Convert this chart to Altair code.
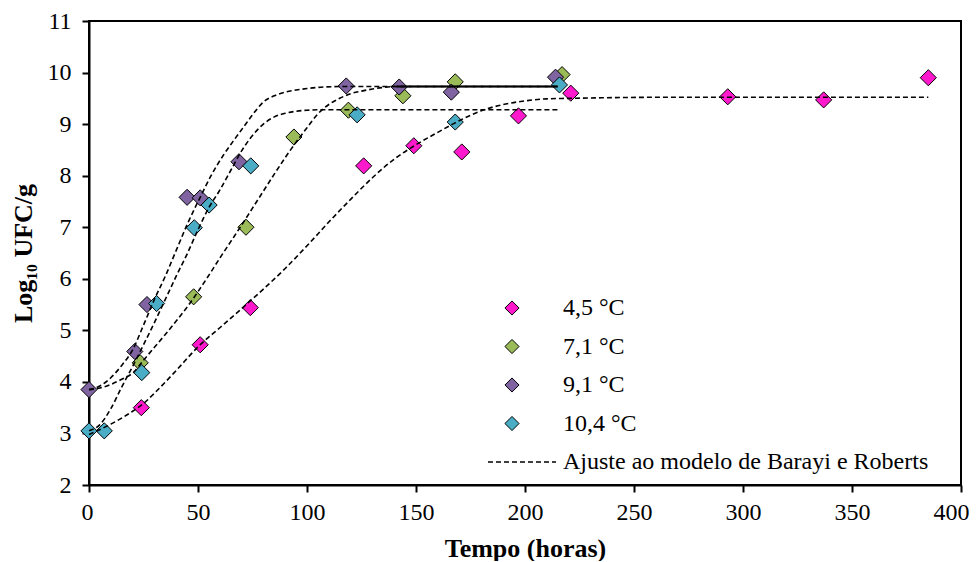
import altair as alt
import pandas as pd

# ---- categories / styling lists ----
series = ["4,5 °C", "7,1 °C", "9,1 °C", "10,4 °C"]
colors = ["#FF19CC", "#9BBB59", "#8064A2", "#4BACC6"]
fit_label = "Ajuste ao modelo de Barayi e Roberts"
x_ticks = [0, 50, 100, 150, 200, 250, 300, 350, 400]
y_ticks = [2, 3, 4, 5, 6, 7, 8, 9, 10, 11]

# ---- observed points (time h, log10 UFC/g) ----
t_45 = [24, 51, 74, 126, 149, 171, 197, 221, 293, 337, 385]
y_45 = [3.5, 4.72, 5.44, 8.19, 8.58, 8.46, 9.16, 9.6, 9.53, 9.47, 9.9]
t_71 = [23.5, 48, 72, 94, 119, 144, 168, 217]
y_71 = [4.37, 5.65, 7.0, 8.75, 9.27, 9.55, 9.82, 9.96]
t_91 = [0, 21, 26.6, 45, 51, 68.8, 118, 142.3, 166.2, 214]
y_91 = [3.85, 4.59, 5.5, 7.58, 7.57, 8.27, 9.74, 9.72, 9.62, 9.91]
t_104 = [0, 7, 24.2, 31, 48.3, 55.1, 74.2, 123, 168, 215.8]
y_104 = [3.05, 3.05, 4.18, 5.52, 6.99, 7.43, 8.19, 9.18, 9.04, 9.76]

# ---- fitted curves ----
ct_45 = [0, 10, 20, 25, 30, 40, 50, 60, 70, 80, 90, 100, 110, 120, 130, 140, 150,
         160, 170, 180, 190, 200, 210, 220, 235, 260, 385]
cy_45 = [2.98, 3.18, 3.43, 3.58, 3.78, 4.22, 4.68, 5.05, 5.42, 5.8, 6.2, 6.64, 7.1,
         7.54, 7.96, 8.32, 8.6, 8.84, 9.07, 9.26, 9.38, 9.45, 9.49, 9.5, 9.51, 9.52, 9.52]
ct_71 = [0, 5, 10, 15, 20, 25, 30, 35, 40, 45, 50, 55, 60, 65, 70, 75, 80, 85, 90,
         95, 100, 105, 110, 115, 120, 125, 130, 135, 141, 150, 215]
cy_71 = [3.85, 3.88, 3.95, 4.05, 4.17, 4.42, 4.67, 4.92, 5.18, 5.45, 5.75, 6.07, 6.4,
         6.72, 7.04, 7.37, 7.7, 8.03, 8.35, 8.65, 8.93, 9.2, 9.38, 9.5, 9.59, 9.64,
         9.68, 9.71, 9.73, 9.73, 9.73]
ct_91 = [0, 5, 10, 15, 20, 25, 30, 35, 40, 45, 51, 56, 62, 66, 71, 75, 80, 85, 90,
         95, 100, 108, 117, 130, 141, 215]
cy_91 = [3.85, 3.92, 4.08, 4.32, 4.62, 5.1, 5.6, 6.05, 6.55, 7.05, 7.58, 8.0, 8.42,
         8.66, 8.95, 9.18, 9.43, 9.55, 9.62, 9.66, 9.69, 9.72, 9.73, 9.73, 9.73, 9.73]
ct_104 = [0, 5, 10, 15, 20, 25, 30, 35, 40, 45, 50, 55, 60, 65, 70, 75, 80, 85, 90,
          95, 100, 110, 120, 216]
cy_104 = [3.05, 3.17, 3.48, 3.9, 4.3, 4.72, 5.15, 5.6, 6.05, 6.48, 6.95, 7.38, 7.72,
          8.1, 8.48, 8.78, 9.0, 9.14, 9.21, 9.25, 9.27, 9.28, 9.28, 9.28]

# ---- tables ----
pts_rows = []
for s, ts, ys in zip(series, [t_45, t_71, t_91, t_104], [y_45, y_71, y_91, y_104]):
    for t, y in zip(ts, ys):
        pts_rows.append({"serie": s, "t": t, "y": y})
pts = pd.DataFrame(pts_rows)

cur_rows = []
for s, ts, ys in zip(series, [ct_45, ct_71, ct_91, ct_104], [cy_45, cy_71, cy_91, cy_104]):
    for t, y in zip(ts, ys):
        cur_rows.append({"curve": s, "t": t, "y": y, "fit": fit_label})
cur = pd.DataFrame(cur_rows)

# segment where the 7,1 and 9,1 °C fits coincide (drawn solid in the original)
overlap = cur[(cur["curve"] == "7,1 °C") & (cur["t"] >= 141)]

xs = alt.Scale(domain=[0, 400], nice=False, zero=False)
ys_ = alt.Scale(domain=[2, 11], nice=False, zero=False)

x_enc = alt.X("t:Q", scale=xs,
              axis=alt.Axis(values=x_ticks, title="Tempo (horas)", labelPadding=8,
                            labelFlush=True, labelFlushOffset=8,
                            titleY=63, titleBaseline="middle"))
y_enc = alt.Y("y:Q", scale=ys_,
              axis=alt.Axis(values=y_ticks, title="Log₁₀ UFC/g", labelPadding=11,
                            labelFlush=False,
                            titleX=-66, titleY=232, titleAngle=270,
                            titleBaseline="middle", titleAlign="center"))

points = alt.Chart(pts).mark_point(
    shape="diamond", filled=True, size=260, stroke="black", strokeWidth=1, opacity=1
).encode(
    x=x_enc, y=y_enc,
    color=alt.Color("serie:N", scale=alt.Scale(domain=series, range=colors),
                    sort=series,
                    legend=alt.Legend(title=None, orient="none", legendX=411, legendY=275,
                                      symbolType="diamond", symbolSize=200,
                                      symbolStrokeColor="black", symbolStrokeWidth=1,
                                      symbolOpacity=1,
                                      labelFont="Liberation Serif", labelFontSize=24,
                                      labelColor="black", labelOffset=39,
                                      rowPadding=14.5, padding=0)),
)

lines = alt.Chart(cur).mark_line(
    color="black", strokeWidth=1.6, interpolate="monotone"
).encode(
    x="t:Q", y="y:Q", detail="curve:N", order="t:Q",
    strokeDash=alt.StrokeDash("fit:N", scale=alt.Scale(domain=[fit_label], range=[[5, 3]]),
                              legend=alt.Legend(title=None, orient="none",
                                                legendX=398, legendY=406,
                                                symbolType="stroke", symbolSize=4624,
                                                symbolStrokeColor="black",
                                                symbolStrokeWidth=1.3,
                                                labelFont="Liberation Serif",
                                                labelFontSize=24, labelColor="black",
                                                labelOffset=6, labelLimit=600,
                                                padding=0)),
)

solid = alt.Chart(overlap).mark_line(color="black", strokeWidth=1.8).encode(
    x="t:Q", y="y:Q"
)

chart = alt.layer(points, lines, solid).properties(
    width=872, height=464, autosize="none",
    padding={"left": 81, "top": 13, "right": 11, "bottom": 76},
    background="white",
).configure_view(
    stroke="black", strokeWidth=2
).configure_axis(
    grid=False, domainColor="black", domainWidth=2, tickColor="black", tickWidth=2,
    tickSize=7, labelFont="Liberation Serif", labelFontSize=24, labelColor="black",
    titleFont="Liberation Serif", titleFontSize=26, titleFontWeight="bold",
    titleColor="black",
)

chart.save("out.html", embed_options={"renderer": "svg", "actions": False})
